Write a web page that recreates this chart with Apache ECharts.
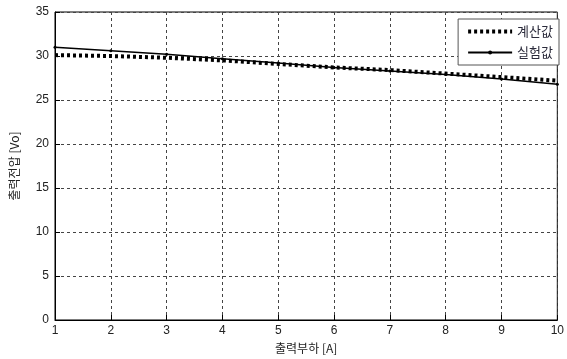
<!DOCTYPE html>
<html><head><meta charset="utf-8">
<script src="https://cdn.jsdelivr.net/npm/echarts@6/dist/echarts.min.js"></script>
<style>html,body{margin:0;padding:0;background:#fff}#c{width:567px;height:359px}</style>
</head><body><div id="c"></div>
<script>
var loads = [1,2,3,4,5,6,7,8,9,10];
var calcValues = [30.1,30.0,29.8,29.5,29.1,28.7,28.4,28.0,27.6,27.2];
var measValues = [31.0,30.6,30.2,29.7,29.2,28.7,28.3,27.9,27.4,26.8];
var seriesNames = ['계산값','실험값'];
var xName = '출력부하 [A]';
var yName = '출력전압 [Vo]';

function pairs(xs, ys){ return xs.map(function(x,i){return [x, ys[i]];}); }
var font = 'Liberation Sans, Arial, sans-serif';
var chart = echarts.init(document.getElementById('c'));
chart.setOption({
  animation:false,
  backgroundColor:'#fff',
  grid:{left:52,right:7,top:12,bottom:38,show:true,borderColor:'#000',borderWidth:1,containLabel:false},
  legend:{
    orient:'vertical', right:8, top:19,
    backgroundColor:'#fff', borderColor:'#555', borderWidth:1, borderRadius:0,
    padding:[6,6,6,8], itemGap:8, itemWidth:44, itemHeight:5,
    textStyle:{fontFamily:'Noto Sans CJK KR, sans-serif',fontSize:13,color:'#2b2b3b'},
    data:[{name:seriesNames[0],itemStyle:{opacity:0},lineStyle:{width:4,type:[3,3],cap:'butt'}},{name:seriesNames[1]}]
  },
  xAxis:{
    type:'value', min:1, max:10, interval:1,
    name:xName, nameLocation:'middle', nameGap:22,
    nameTextStyle:{fontFamily:'Noto Sans CJK KR, sans-serif',fontSize:12,color:'#222'},
    axisLine:{show:true,lineStyle:{color:'#000',width:1}},
    axisTick:{show:true,inside:true,length:5,lineStyle:{color:'#000'}},
    axisLabel:{fontFamily:font,fontSize:12,color:'#222',margin:5},
    splitLine:{show:true,lineStyle:{color:'#444',type:[3,3],width:1}}
  },
  yAxis:{
    type:'value', min:0, max:35, interval:5,
    name:yName, nameLocation:'middle', nameGap:35,
    nameTextStyle:{fontFamily:'Noto Sans CJK KR, sans-serif',fontSize:12,color:'#222'},
    axisLine:{show:true,lineStyle:{color:'#000',width:1}},
    axisTick:{show:true,inside:true,length:5,lineStyle:{color:'#000'}},
    axisLabel:{fontFamily:font,fontSize:12,color:'#222',margin:6},
    splitLine:{show:true,lineStyle:{color:'#444',type:[3,3],width:1}}
  },
  series:[
    {name:seriesNames[0],type:'line',data:pairs(loads,calcValues),symbol:'none',
     lineStyle:{color:'#000',width:4,type:[3,3],cap:'butt'},itemStyle:{color:'#000'},z:2},
    {name:seriesNames[1],type:'line',data:pairs(loads,measValues),symbol:'circle',symbolSize:3,
     lineStyle:{color:'#000',width:1.5},itemStyle:{color:'#000'},z:3}
  ]
});
</script></body></html>
